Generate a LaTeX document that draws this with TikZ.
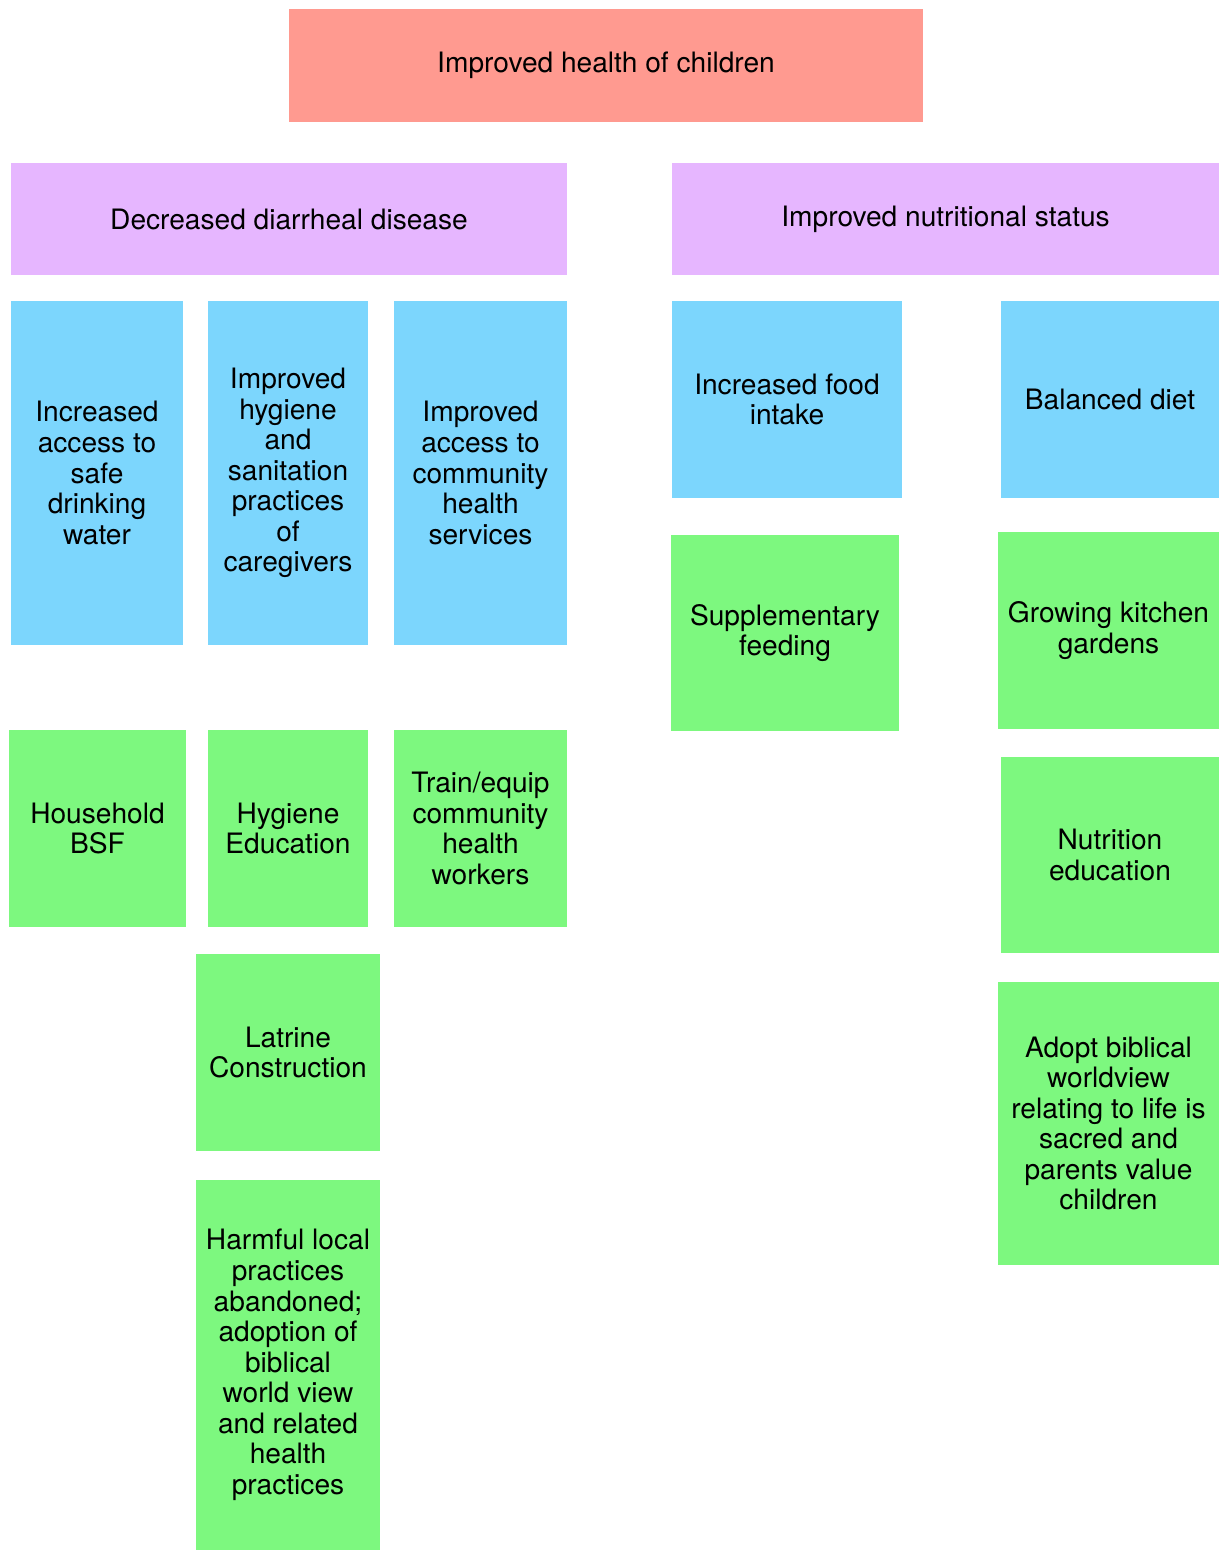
\documentclass[tikz,border=0pt]{standalone}
\usepackage{fontspec}
\setmainfont{TeX Gyre Heros}
\definecolor{goalred}{HTML}{FF9A90}
\definecolor{purposelilac}{HTML}{E6B6FF}
\definecolor{outcomeblue}{HTML}{7CD6FD}
\definecolor{activitygreen}{HTML}{7DF87F}

\begin{document}
\begin{tikzpicture}[
            box/.style={rectangle, inner sep=0pt, align=center, font=\fontsize{16}{17.4}\selectfont},
            goal/.style={box, fill=goalred},
            purpose/.style={box, fill=purposelilac},
            result/.style={box, fill=outcomeblue},
            activity/.style={box, fill=activitygreen}
            ]
            \useasboundingbox (0,0) rectangle (24.4,-31.02);

            % Goal
            \node[goal, minimum width=12.68cm, minimum height=2.26cm] (health) at (12.12,-1.31) {Improved health of children};

            % Purposes
            \node[purpose, minimum width=11.12cm, minimum height=2.24cm] (diarrhea) at (5.78,-4.38) {Decreased diarrheal disease};
            \node[purpose, minimum width=10.94cm, minimum height=2.24cm] (nutrition) at (18.91,-4.38) {Improved nutritional status};

            % Outcomes
            \node[result, minimum width=3.44cm, minimum height=6.88cm] (water) at (1.94,-9.46) {Increased\\access to\\safe\\drinking\\water};
            \node[result, minimum width=3.2cm, minimum height=6.88cm] (hygiene) at (5.76,-9.46) {Improved\\hygiene\\and\\sanitation\\practices\\of\\caregivers};
            \node[result, minimum width=3.46cm, minimum height=6.88cm] (services) at (9.61,-9.46) {Improved\\access to\\community\\health\\services};
            \node[result, minimum width=4.6cm, minimum height=3.94cm] (food) at (15.74,-7.99) {Increased food\\intake};
            \node[result, minimum width=4.36cm, minimum height=3.94cm] (diet) at (22.2,-7.99) {Balanced diet};

            % Activities
            \node[activity, minimum width=3.54cm, minimum height=3.94cm] (bsf) at (1.95,-16.57) {Household\\BSF};
            \node[activity, minimum width=3.2cm, minimum height=3.94cm] (hygedu) at (5.76,-16.57) {Hygiene\\Education};
            \node[activity, minimum width=3.46cm, minimum height=3.94cm] (chw) at (9.61,-16.57) {Train/equip\\community\\health\\workers};
            \node[activity, minimum width=3.68cm, minimum height=3.94cm] (latrine) at (5.76,-21.05) {Latrine\\Construction};
            \node[activity, minimum width=3.68cm, minimum height=7.4cm] (harmful) at (5.76,-27.3) {Harmful local\\practices\\abandoned;\\adoption of\\biblical\\world view\\and related\\health\\practices};
            \node[activity, minimum width=4.56cm, minimum height=3.92cm] (feeding) at (15.7,-12.66) {Supplementary\\feeding};
            \node[activity, minimum width=4.42cm, minimum height=3.94cm] (garden) at (22.17,-12.61) {Growing kitchen\\gardens};
            \node[activity, minimum width=4.36cm, minimum height=3.92cm] (nutedu) at (22.2,-17.1) {Nutrition\\education};
            \node[activity, minimum width=4.42cm, minimum height=5.66cm] (worldview) at (22.17,-22.47) {Adopt biblical\\worldview\\relating to life is\\sacred and\\parents value\\children};

        \end{tikzpicture}
\end{document}
